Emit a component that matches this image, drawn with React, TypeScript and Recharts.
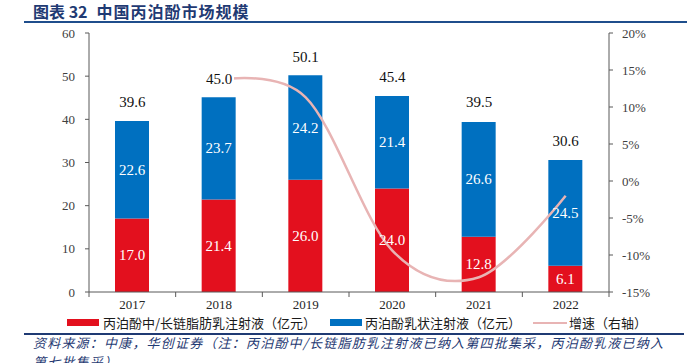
import React from 'react';
import { ComposedChart, Bar, Line, XAxis, YAxis, LabelList } from 'recharts';

const years = ['2017', '2018', '2019', '2020', '2021', '2022'];
const midLongChain = [17.0, 21.4, 26.0, 24.0, 12.8, 6.1];
const emulsion = [22.6, 23.7, 24.2, 21.4, 26.6, 24.5];
const totals = [39.6, 45.0, 50.1, 45.4, 39.5, 30.6];
const growth: (number | null)[] = [null, 13.6, 11.3, -9.4, -13.0, -2.0];
const leftTicks = [0, 10, 20, 30, 40, 50, 60];
const rightTicks = [-15, -10, -5, 0, 5, 10, 15, 20];

const data = years.map((y, i) => ({
  year: y,
  a: midLongChain[i],
  b: emulsion[i],
  total: totals[i],
  g: growth[i],
}));

const SERIF = '"Liberation Serif", "DejaVu Serif", serif';
const CJK = '"Noto Sans CJK SC", "Noto Sans", sans-serif';
const NAVY = '#1F3A73';
const RED = '#E3101E';
const BLUE = '#0070C0';
const PINK = '#E8B4B4';
const AXIS = '#595959';

// Catmull-Rom (cardinal, tension 0) curve factory, similar to Excel's smoothed line
function smoothCurve(context: any) {
  const k = 1 / 6;
  const s: any = {
    _line: NaN,
    _point: 0,
    _x0: NaN, _x1: NaN, _x2: NaN, _y0: NaN, _y1: NaN, _y2: NaN,
  };
  const seg = (x: number, y: number) => {
    context.bezierCurveTo(
      s._x1 + k * (s._x2 - s._x0),
      s._y1 + k * (s._y2 - s._y0),
      s._x2 + k * (s._x1 - x),
      s._y2 + k * (s._y1 - y),
      s._x2,
      s._y2
    );
  };
  return {
    areaStart() { s._line = 0; },
    areaEnd() { s._line = NaN; },
    lineStart() {
      s._x0 = s._x1 = s._x2 = s._y0 = s._y1 = s._y2 = NaN;
      s._point = 0;
    },
    lineEnd() {
      switch (s._point) {
        case 2: context.lineTo(s._x2, s._y2); break;
        case 3: seg(s._x1, s._y1); break;
      }
      if (s._line || (s._line !== 0 && s._point === 1)) context.closePath();
      s._line = 1 - s._line;
    },
    point(x: number, y: number) {
      x = +x; y = +y;
      switch (s._point) {
        case 0:
          s._point = 1;
          if (s._line) context.lineTo(x, y); else context.moveTo(x, y);
          break;
        case 1:
          s._point = 2; s._x1 = x; s._y1 = y;
          break;
        case 2:
          s._point = 3;
          seg(x, y);
          break;
        default:
          seg(x, y);
          break;
      }
      s._x0 = s._x1; s._x1 = s._x2; s._x2 = x;
      s._y0 = s._y1; s._y1 = s._y2; s._y2 = y;
    },
  };
}

const XTick = (props: any) => {
  const { x, y, payload, index } = props;
  const half = payload && payload.offset ? payload.offset : 43.33;
  const axisY = y - 8;
  return (
    <g>
      {index === 0 && (
        <line x1={x - half} x2={x - half} y1={axisY} y2={axisY + 5} stroke={AXIS} />
      )}
      <line x1={x + half} x2={x + half} y1={axisY} y2={axisY + 5} stroke={AXIS} />
      <text x={x} y={y + 9} textAnchor="middle" fontFamily={SERIF} fontSize={13} fill="#262626">
        {payload.value}
      </text>
    </g>
  );
};

const TotalLabel = (props: any) => {
  const { x, y, value } = props;
  if (value == null) return null;
  return (
    <g>
      <rect x={x - 15} y={y - 27} width={30} height={16} fill="#fff" />
      <text x={x} y={y - 14} textAnchor="middle" fontFamily={SERIF} fontSize={15} fill="#111">
        {Number(value).toFixed(1)}
      </text>
    </g>
  );
};

const InLabel = (props: any) => {
  const { x, y, width, height, value } = props;
  return (
    <text
      x={x + width / 2}
      y={y + height / 2 + 5}
      textAnchor="middle"
      fontFamily={SERIF}
      fontSize={15}
      fill="#fff"
    >
      {Number(value).toFixed(1)}
    </text>
  );
};

export default function App() {
  return (
    <div style={{ position: 'absolute', left: 0, top: 0, width: 696, height: 363, background: '#fff', overflow: 'hidden' }}>
      <div
        style={{
          position: 'absolute',
          left: 33,
          top: 0,
          fontFamily: CJK,
          fontWeight: 700,
          fontSize: 16,
          color: NAVY,
          whiteSpace: 'nowrap',
          lineHeight: '22px',
        }}
      >
        <span>图表 32</span>
        <span style={{ marginLeft: 9, letterSpacing: 1 }}>中国丙泊酚市场规模</span>
      </div>
      <div style={{ position: 'absolute', left: 24, top: 21, width: 663, height: 2, background: '#1F4E8C' }} />

      <div style={{ position: 'absolute', left: 0, top: 0 }}>
        <ComposedChart
          width={696}
          height={363}
          data={data}
          margin={{ top: 33, right: 37, bottom: 51, left: 49 }}
          barCategoryGap={0}
        >
          <XAxis
            dataKey="year"
            xAxisId="x"
            tick={<XTick />}
            tickLine={false}
            tickSize={0}
            tickMargin={8}
            height={20}
            axisLine={{ stroke: AXIS }}
            interval={0}
          />
          <YAxis
            yAxisId="left"
            domain={[0, 60]}
            ticks={leftTicks}
            width={40}
            tickSize={4}
            tickMargin={10}
            axisLine={{ stroke: AXIS }}
            tickLine={{ stroke: AXIS }}
            tick={{ fontFamily: SERIF, fontSize: 13, fill: '#404040' }}
            interval={0}
          />
          <YAxis
            yAxisId="right"
            orientation="right"
            domain={[-15, 20]}
            ticks={rightTicks}
            width={50}
            tickSize={4}
            tickMargin={9}
            axisLine={{ stroke: AXIS }}
            tickLine={{ stroke: AXIS }}
            tick={{ fontFamily: SERIF, fontSize: 13, fill: '#404040' }}
            tickFormatter={(v: number) => `${v}%`}
            interval={0}
          />
          <Bar dataKey="a" xAxisId="x" yAxisId="left" stackId="s" fill={RED} barSize={34} isAnimationActive={false}>
            <LabelList dataKey="a" content={<InLabel />} />
          </Bar>
          <Bar dataKey="b" xAxisId="x" yAxisId="left" stackId="s" fill={BLUE} barSize={34} isAnimationActive={false}>
            <LabelList dataKey="b" content={<InLabel />} />
          </Bar>
          <Line
            dataKey="g"
            xAxisId="x"
            yAxisId="right"
            type={smoothCurve as any}
            stroke={PINK}
            strokeWidth={2.5}
            dot={false}
            activeDot={false}
            connectNulls={false}
            isAnimationActive={false}
          />
          <Line
            dataKey="total"
            xAxisId="x"
            yAxisId="left"
            stroke="none"
            dot={false}
            activeDot={false}
            isAnimationActive={false}
          >
            <LabelList dataKey="total" content={<TotalLabel />} />
          </Line>
        </ComposedChart>
      </div>

      <div
        style={{
          position: 'absolute',
          left: 0,
          top: 314,
          width: 696,
          height: 18,
          fontFamily: CJK,
          fontSize: 13,
          color: '#1a1a1a',
          whiteSpace: 'nowrap',
          lineHeight: '18px',
        }}
      >
        <div style={{ position: 'absolute', left: 67, top: 5, width: 32, height: 7, background: RED }} />
        <div style={{ position: 'absolute', left: 103, top: 0 }}>丙泊酚中/长链脂肪乳注射液（亿元）</div>
        <div style={{ position: 'absolute', left: 330, top: 5, width: 32, height: 7, background: BLUE }} />
        <div style={{ position: 'absolute', left: 365, top: 0 }}>丙泊酚乳状注射液（亿元）</div>
        <div style={{ position: 'absolute', left: 533, top: 8, width: 34, height: 2, background: PINK }} />
        <div style={{ position: 'absolute', left: 569, top: 0 }}>增速（右轴）</div>
      </div>
      <div style={{ position: 'absolute', left: 24, top: 333, width: 660, height: 2, background: NAVY }} />
      <div
        style={{
          position: 'absolute',
          left: 33,
          top: 333,
          fontFamily: CJK,
          fontSize: 13,
          fontStyle: 'italic',
          color: NAVY,
          letterSpacing: 1.2,
          lineHeight: '19px',
          whiteSpace: 'nowrap',
        }}
      >
        <div>资料来源：中康，华创证券（注：丙泊酚中/长链脂肪乳注射液已纳入第四批集采，丙泊酚乳液已纳入</div>
        <div>第七批集采）</div>
      </div>
    </div>
  );
}
